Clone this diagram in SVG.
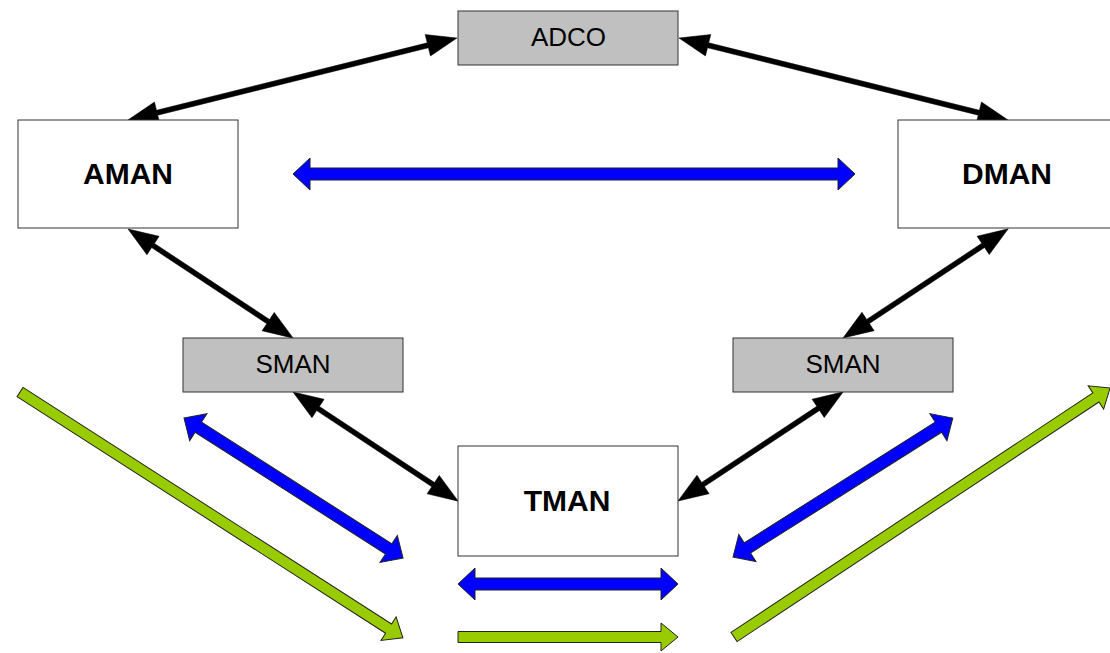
<svg xmlns="http://www.w3.org/2000/svg" width="1110" height="653" viewBox="0 0 1110 653">
<style>
.box{fill:#ffffff;stroke:#333333;stroke-width:1}
.gbox{fill:#c0c0c0;stroke:#333333;stroke-width:1}
.t{font-family:"Liberation Sans",Arial,sans-serif;font-size:26px;fill:#000;text-anchor:middle}
.tb{font-family:"Liberation Sans",Arial,sans-serif;font-size:30px;font-weight:bold;fill:#000;text-anchor:middle}
.blk{fill:#000000;stroke:#000000;stroke-width:0.5}
.blue{fill:#0000ff;stroke:#222222;stroke-width:1}
.green{fill:#99cc00;stroke:#222222;stroke-width:1}
</style>
<rect width="1110" height="653" fill="#ffffff"/>
<g id="connectors">
  <!-- black double arrows -->
  <polygon class="blk" transform="translate(128,120) rotate(-13.99)" points="0,0 30,-11 30,-2.5 309,-2.5 309,-11 339,0 309,11 309,2.5 30,2.5 30,11"/>
  <polygon class="blk" transform="translate(679,38) rotate(13.99)" points="0,0 30,-11 30,-2.5 309,-2.5 309,-11 339,0 309,11 309,2.5 30,2.5 30,11"/>
  <polygon class="blk" transform="translate(128,229) rotate(33.45)" points="0,0 30,-11 30,-2.5 168,-2.5 168,-11 198,0 168,11 168,2.5 30,2.5 30,11"/>
  <polygon class="blk" transform="translate(843,338) rotate(-33.45)" points="0,0 30,-11 30,-2.5 168,-2.5 168,-11 198,0 168,11 168,2.5 30,2.5 30,11"/>
  <polygon class="blk" transform="translate(293,392) rotate(33.45)" points="0,0 30,-11 30,-2.5 168,-2.5 168,-11 198,0 168,11 168,2.5 30,2.5 30,11"/>
  <polygon class="blk" transform="translate(678,501) rotate(-33.45)" points="0,0 30,-11 30,-2.5 168,-2.5 168,-11 198,0 168,11 168,2.5 30,2.5 30,11"/>
  <!-- blue double arrows -->
  <polygon class="blue" transform="translate(293,174)" points="0,0 17,-16 17,-6 545,-6 545,-16 562,0 545,16 545,6 17,6 17,16"/>
  <polygon class="blue" transform="translate(184,418) rotate(32.6)" points="0,0 17,-16 17,-6 243,-6 243,-16 260,0 243,16 243,6 17,6 17,16"/>
  <polygon class="blue" transform="translate(733,557) rotate(-32.3)" points="0,0 17,-16 17,-6 243,-6 243,-16 260,0 243,16 243,6 17,6 17,16"/>
  <polygon class="blue" transform="translate(458,584)" points="0,0 17,-16 17,-6 203,-6 203,-16 220,0 203,16 203,6 17,6 17,16"/>
  <!-- green single arrows -->
  <polygon class="green" transform="translate(20,392) rotate(32.7)" points="0,-5.5 438,-5.5 438,-14 455,0 438,14 438,5.5 0,5.5"/>
  <polygon class="green" transform="translate(734,637) rotate(-33.5)" points="0,-5.5 434,-5.5 434,-14 451,0 434,14 434,5.5 0,5.5"/>
  <polygon class="green" transform="translate(458,637)" points="0,-5.5 203,-5.5 203,-14 220,0 203,14 203,5.5 0,5.5"/>
</g>
<g id="adco">
  <rect class="gbox" x="458" y="11" width="220" height="54"/>
  <text class="t" x="568.5" y="46">ADCO</text>
</g>
<g id="aman">
  <rect class="box" x="18" y="120" width="220" height="108"/>
  <text class="tb" x="128" y="184">AMAN</text>
</g>
<g id="dman">
  <rect class="box" x="898" y="120" width="220" height="108"/>
  <text class="tb" x="1007" y="184">DMAN</text>
</g>
<g id="sman-left">
  <rect class="gbox" x="183" y="338" width="220" height="54"/>
  <text class="t" x="293" y="373">SMAN</text>
</g>
<g id="sman-right">
  <rect class="gbox" x="733" y="338" width="220" height="54"/>
  <text class="t" x="843" y="373">SMAN</text>
</g>
<g id="tman">
  <rect class="box" x="458" y="446" width="220" height="110"/>
  <text class="tb" x="567" y="511">TMAN</text>
</g>
</svg>
